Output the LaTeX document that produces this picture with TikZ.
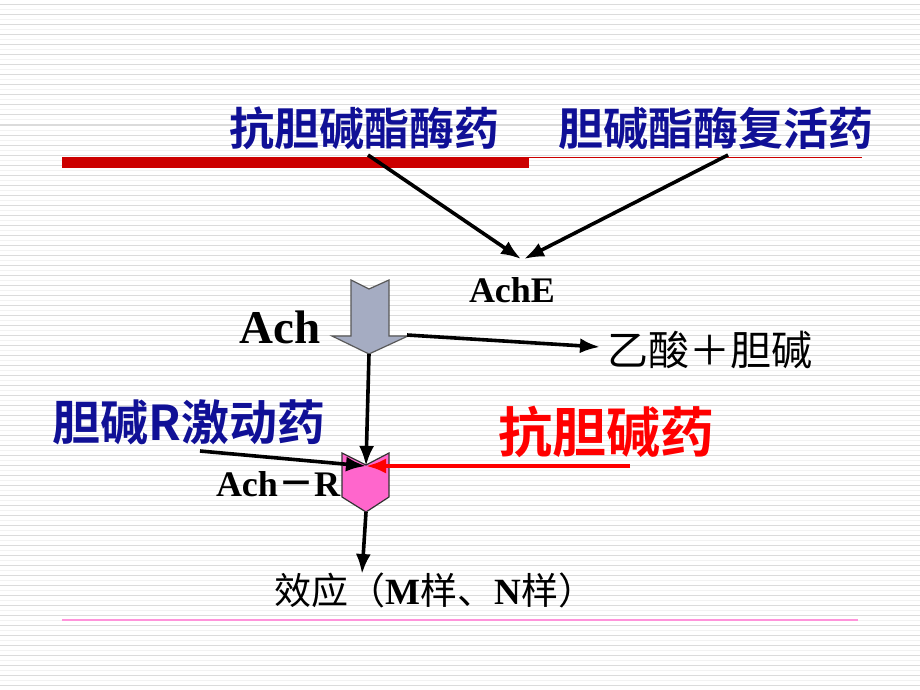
\documentclass[tikz,border=0pt]{standalone}
\usepackage{fontspec}
\setmainfont{Liberation Serif}
\newfontfamily\cjk[BoldFont={Noto Sans CJK SC Bold}]{Noto Sans CJK SC}
\usetikzlibrary{arrows.meta}
\definecolor{titleblue}{RGB}{16,16,150}
\definecolor{barred}{RGB}{204,0,0}
\definecolor{arrowgray}{RGB}{165,172,194}
\definecolor{rpink}{RGB}{255,102,204}

\begin{document}
\begin{tikzpicture}[
        x=0.5pt, y=-0.5pt,
        line/.style={-{Latex[length=10pt, width=7.5pt]}, line width=1.8pt},
        title/.style={font=\cjk\bfseries\fontsize{22.5}{24}\selectfont, text=titleblue, inner sep=1pt},
        latin/.style={font=\bfseries, inner sep=1pt},
        plain/.style={font=\cjk, inner sep=1pt}
    ]

    % background stripes
    \useasboundingbox (0,0) rectangle (920,690);
    \fill[white] (0,0) rectangle (920,690);
    \foreach \y in {0,10,...,690} {
        \draw[gray!10, line width=0.5pt] (0,\y) -- (920,\y);
        \draw[gray!28, line width=0.5pt] (0,\y+5) -- (920,\y+5);
    }

    % bars
    \fill[barred] (62,157) rectangle (529,168);
    \draw[barred, line width=0.6pt] (529,157.5) -- (862,157.5);
    \draw[rpink!70, line width=0.6pt] (62,620) -- (858,620);

    % labels
    \node[title] (anti) at (364,128) {抗胆碱酯酶药};
    \node[title] (react) at (716,128) {胆碱酯酶复活药};
    \node[latin, font=\bfseries\fontsize{18}{20}\selectfont] (ache) at (512,290) {AchE};
    \node[latin, font=\bfseries\fontsize{23.5}{25}\selectfont] (ach) at (280,327) {Ach};
    \node[plain, font=\cjk\fontsize{20.5}{22}\selectfont] (prod) at (710,350) {乙酸＋胆碱};
    \node[title, font=\cjk\bfseries\fontsize{24}{26}\selectfont] (agon) at (189,422) {胆碱R激动药};
    \node[title, text=red, font=\cjk\bfseries\fontsize{27}{29}\selectfont] (antag) at (606,432) {抗胆碱药};
    \node[latin, font=\bfseries\fontsize{18}{20}\selectfont] (achr) at (278,484) {Ach{\cjk －}R};
    \node[plain, font=\cjk\fontsize{18.5}{20}\selectfont] (effect) at (435,590)
        {效应（{\rmfamily\bfseries M}样、{\rmfamily\bfseries N}样）};

    % points on the shapes
    \coordinate (s1) at (368,155);
    \coordinate (s2) at (728,155);
    \coordinate (e1) at (521,259);
    \coordinate (e2) at (524,259);
    \coordinate (achwing) at (407,335);
    \coordinate (achtip) at (369,354);
    \coordinate (notch) at (366,466);
    \coordinate (rtip) at (366,512);
    \coordinate (prodin) at (600,347);
    \coordinate (agonout) at (200,451);
    \coordinate (antagout) at (630,466);
    \coordinate (effin) at (362,574);

    % Ach block arrow
    \draw[gray!70!black, fill=arrowgray, line width=0.6pt]
        (351,280) -- (369,289) -- (389,280) -- (389,336) -- (408,336)
        -- (achtip) -- (332,336) -- (351,336) -- cycle;

    % receptor
    \draw[gray!40!black, fill=rpink, line width=0.6pt]
        (342,453) -- (366,465) -- (389,453) -- (389,497) -- (rtip)
        -- (342,497) -- cycle;

    \draw[line] (s1) -- (e1);
    \draw[line] (s2) -- (e2);
    \draw[line] (achwing) -- (prodin);
    \draw[line] (achtip) -- (notch);
    \draw[line] (agonout) -- (notch);
    \draw[line, red] (antagout) -- (notch);
    \draw[line] (rtip) -- (effin);

\end{tikzpicture}
\end{document}
